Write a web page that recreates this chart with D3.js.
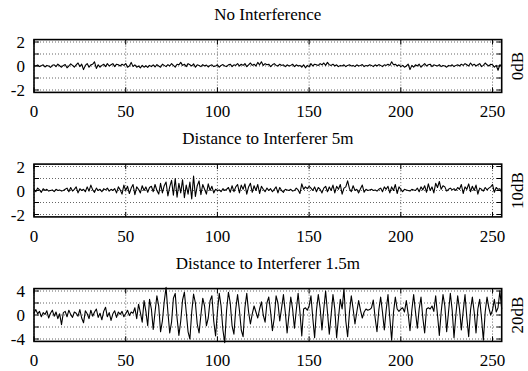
<!DOCTYPE html>
<html>
<head>
<meta charset="utf-8">
<script src="https://cdn.jsdelivr.net/npm/d3@7"></script>
<style>
  body { margin: 0; background: #fff; }
</style>
</head>
<body>
<svg id="chart" width="528" height="371"></svg>
<script>
// values, one per sample index 0..255
const noInterference = [
  0.05, 0.0, 0.08, -0.05, 0.02, 0.1, -0.08, 0.05, 0.0, -0.12, 0.06, 0.1, -0.05, 0.15, 0.02, -0.1,
  0.05, 0.12, -0.15, 0.0, 0.18, 0.05, -0.1, 0.1, 0.25, -0.05, 0.15, -0.3, 0.05, 0.2, -0.1, 0.1,
  0.15, 0.35, -0.2, 0.1, -0.1, 0.05, 0.15, -0.05, 0.2, 0.0, 0.1, 0.2, -0.05, 0.15, 0.1, 0.0,
  0.15, 0.05, 0.2, -0.1, 0.0, 0.3, -0.05, 0.1, -0.1, 0.0, -0.15, 0.05, -0.1, 0.02, -0.12, 0.05,
  -0.05, 0.1, -0.08, 0.12, 0.0, -0.1, 0.15, 0.05, -0.05, 0.12, 0.0, 0.2, 0.05, -0.1, 0.15, 0.1,
  0.3, 0.05, 0.15, -0.05, 0.2, 0.1, 0.0, 0.18, -0.1, 0.1, 0.05, -0.05, 0.12, 0.0, 0.08, -0.08,
  0.05, 0.1, -0.05, 0.0, 0.1, -0.1, 0.05, 0.12, 0.0, -0.05, 0.1, 0.15, -0.05, 0.1, 0.05, 0.2,
  0.0, 0.15, 0.05, 0.2, -0.05, 0.1, 0.25, 0.05, 0.15, 0.0, 0.3, 0.1, 0.35, 0.05, 0.2, 0.1,
  0.15, -0.05, 0.1, 0.2, 0.05, 0.0, 0.15, 0.05, 0.1, -0.05, 0.1, 0.0, 0.05, 0.15, -0.05, 0.1,
  0.0, 0.05, -0.1, 0.1, -0.15, 0.05, -0.05, 0.2, 0.0, 0.15, 0.1, 0.05, 0.2, 0.1, 0.25, 0.05,
  0.3, 0.1, 0.05, 0.15, 0.0, 0.1, -0.05, 0.05, 0.0, 0.1, -0.05, 0.05, 0.1, 0.0, 0.05, -0.05,
  0.1, 0.0, 0.05, 0.12, -0.05, 0.05, 0.0, 0.1, 0.05, -0.05, 0.1, 0.0, 0.12, 0.05, -0.05, 0.1,
  0.05, 0.15, 0.05, 0.35, 0.1, 0.15, 0.0, 0.1, -0.05, 0.05, -0.1, 0.0, 0.15, -0.3, 0.05, -0.1,
  0.1, 0.0, 0.15, -0.1, 0.05, 0.2, 0.0, 0.1, 0.15, -0.05, 0.1, 0.05, 0.0, 0.12, -0.05, 0.05,
  0.0, -0.1, 0.05, 0.0, 0.1, -0.05, 0.05, 0.1, 0.0, 0.15, 0.05, 0.2, 0.1, 0.0, 0.25, 0.05,
  0.15, 0.0, 0.1, 0.2, -0.05, 0.05, 0.25, 0.1, 0.0, 0.15, 0.1, -0.1, 0.05, -0.35, 0.1, 0.0
];

const interferer5m = [
  0.1, -0.1, 0.2, 0.05, -0.15, 0.15, 0.0, 0.1, -0.05, 0.0, 0.05, -0.1, 0.1, 0.0, 0.05, -0.05,
  0.0, 0.1, 0.2, -0.1, 0.25, -0.05, 0.1, 0.3, -0.2, 0.15, 0.0, 0.1, -0.1, 0.3, -0.05, 0.45,
  0.05, -0.15, 0.2, 0.0, 0.1, -0.1, 0.15, 0.05, 0.2, -0.05, 0.1, 0.0, 0.15, -0.2, 0.3, 0.05,
  -0.3, 0.45, 0.0, 0.35, -0.25, 0.2, 0.5, -0.35, 0.3, 0.1, -0.2, 0.4, 0.0, 0.3, -0.15, 0.25,
  0.35, -0.1, 0.5, 0.0, -0.3, 0.6, -0.2, 0.4, 0.7, -0.45, 0.3, 0.85, -0.4, 1.0, -0.55, 0.6,
  -0.2, 0.9, -0.6, 0.45, -0.3, 0.7, -0.7, 1.2, -0.5, 0.4, 0.8, -0.35, 0.5, 0.1, -0.3, 0.55,
  0.0, 0.35, -0.2, 0.1, 0.0, 0.05, -0.1, 0.15, 0.0, 0.1, 0.25, -0.15, 0.4, -0.1, 0.3, 0.5,
  -0.2, 0.45, 0.1, 0.55, -0.3, 0.3, 0.6, -0.15, 0.4, 0.0, 0.5, -0.25, 0.35, 0.1, -0.1, 0.2,
  0.0, 0.15, -0.1, 0.1, 0.3, -0.2, 0.25, 0.0, -0.15, 0.1, 0.05, 0.0, 0.1, -0.05, 0.0, 0.2,
  0.05, -0.25, 0.55, 0.1, 0.3, 0.15, 0.35, 0.2, 0.0, 0.3, -0.1, 0.25, 0.1, -0.2, 0.2, 0.35,
  -0.1, 0.3, 0.0, 0.45, -0.2, 0.35, 0.1, 0.5, -0.3, 0.2, 0.3, 0.8, 0.15, -0.1, 0.4, 0.0,
  0.1, -0.2, 0.15, 0.45, -0.15, 0.1, 0.0, 0.05, 0.1, 0.0, 0.05, -0.05, 0.1, 0.2, -0.1, 0.3,
  0.1, 0.35, -0.2, 0.3, 0.0, 0.5, -0.25, 0.3, 0.1, -0.1, 0.1, 0.05, 0.0, -0.05, 0.1, 0.05,
  0.0, 0.2, -0.1, 0.3, 0.05, 0.4, -0.15, 0.55, 0.0, 0.3, -0.2, 0.6, 0.25, 0.75, 0.1, 0.4,
  0.3, -0.05, 0.1, 0.2, 0.05, 0.15, 0.0, 0.25, 0.1, 0.5, -0.25, 0.3, 0.1, 0.55, -0.1, 0.35,
  0.0, 0.45, -0.3, 0.2, 0.1, -0.05, 0.25, 0.05, 0.2, 0.3, 0.5, -0.15, 0.25, 0.1, 0.15, -0.2
];

const interferer15m = [
  0.3, 0.9, 0.2, 0.6, -0.3, 0.4, 0.1, 0.7, -0.5, 0.3, 0.8, -0.2, 0.5, -0.6, 0.2, -1.6,
  0.4, 0.6, -0.3, 0.8, 0.1, -0.4, 0.5, 0.3, -0.2, 0.9, -0.5, -1.3, 0.7, 0.2, -0.6, 0.8,
  -0.2, 0.5, 1.0, -0.4, 0.3, -0.8, 0.6, 1.3, -0.3, 0.4, -0.9, 0.2, 0.7, -0.4, 0.5, 0.1,
  0.6, -0.3, 0.2, 0.8, -0.1, 0.5, 0.3, 1.2, -0.6, 1.8, 0.4, -1.2, 2.4, 0.6, -1.8, 2.6,
  1.0, -2.4, 0.5, 3.2, 1.5, -2.8, -1.0, 2.2, 4.6, 0.5, -3.0, -1.2, 2.8, 3.6, -0.5, -3.4,
  -1.0, 2.5, 3.8, 0.5, -2.8, -4.0, 0.5, 3.5, 2.0, -1.5, -3.0, 0.0, 2.8, 1.5, -1.8, -0.5,
  2.4, 3.2, -1.0, -3.5, 0.5, 3.6, 1.5, -2.5, -4.6, 0.8, 3.8, 2.0, -1.8, -3.2, 1.0, 3.4,
  0.8, -2.5, -3.6, 1.2, 3.6, 0.5, -1.5, 0.2, 1.5, 0.5, -0.5, 1.0, 2.2, 0.0, -1.2, 2.0,
  3.0, 0.5, -2.6, -0.5, 3.2, 2.0, -1.0, 1.2, 3.4, 0.5, -3.0, 0.0, 3.0, 1.0, -2.2, 0.8,
  3.6, 0.5, -3.5, 1.0, 1.2, 0.8, 1.5, 3.2, -0.5, -3.8, 0.8, 3.4, 1.2, -2.5, 1.0, 4.0,
  0.5, -3.2, 0.0, 3.4, 1.0, -3.8, -0.5, 2.6, 1.0, 4.4, -1.0, -3.6, 0.5, 3.2, 1.0, -1.5,
  0.5, 2.4, 0.8, -0.5, 0.5, 1.0, 0.8, 0.9, 1.2, 2.5, -0.5, -2.8, 0.8, 3.0, 0.5, -2.5,
  0.8, 3.4, -0.5, -4.2, 0.4, 3.0, 1.0, 0.6, 1.0, 1.2, 0.5, 2.4, 0.2, -2.6, 0.8, 3.4,
  0.5, -2.2, 1.0, 3.0, -0.5, -3.0, 1.0, 1.2, 1.0, 1.5, 0.6, 3.2, 0.0, -3.4, 0.5, 3.4,
  1.5, -2.8, 0.5, 3.6, 0.8, -3.8, 0.0, 3.2, 1.0, -2.5, 0.6, 3.4, -0.5, -3.6, 0.8, 3.0,
  0.5, -3.0, 1.0, 2.6, -0.5, -4.2, 0.5, 3.0, 1.2, 0.0, 0.8, 2.6, 0.5, 1.2, 4.0, 1.0
];

const titles = ['No Interference', 'Distance to Interferer 5m', 'Distance to Interferer 1.5m'];
const sideLabels = ['0dB', '10dB', '20dB'];
const xTicks = [0, 50, 100, 150, 200, 250];
const yLimits = [2.2, 2.2, 4.4];
const yGrid = [[-2, -1, 0, 1, 2], [-2, -1, 0, 1, 2], [-4, -2, 0, 2, 4]];
const yTickLabels = [[-2, 0, 2], [-2, 0, 2], [-4, 0, 4]];
const series = [noInterference, interferer5m, interferer15m];

const serif = 'Liberation Serif';

const svg = d3.select('#chart');
const left = 34, right = 501.7, panelH = 52.8, firstTop = 39.6, step = 124.5;

const x = d3.scaleLinear().domain([0, 255]).range([left, right]);

// every text goes through here so the serif face is set on the element itself
function label(sel, str, size) {
    return sel.append('text')
        .style('font-family', serif)
        .style('font-size', size + 'px')
        .attr('fill', '#000')
        .text(str);
}

series.forEach((data, p) => {
    const top = firstTop + p * step;
    const y = d3.scaleLinear().domain([-yLimits[p], yLimits[p]]).range([top + panelH, top]);
    const g = svg.append('g');

    // title
    label(g, titles[p], 17)
        .attr('x', (left + right) / 2)
        .attr('y', top - 20)
        .attr('text-anchor', 'middle');

    // dotted grid
    g.append('g')
        .selectAll('line')
        .data(xTicks)
        .enter()
        .append('line')
        .attr('x1', d => x(d)).attr('x2', d => x(d))
        .attr('y1', top).attr('y2', top + panelH)
        .attr('stroke', '#666')
        .attr('stroke-width', 1)
        .attr('stroke-dasharray', '1,2');
    g.append('g')
        .selectAll('line')
        .data(yGrid[p])
        .enter()
        .append('line')
        .attr('x1', left).attr('x2', right)
        .attr('y1', d => y(d)).attr('y2', d => y(d))
        .attr('stroke', '#666')
        .attr('stroke-width', 1)
        .attr('stroke-dasharray', '1,2');

    // tick marks, inward on all four sides
    const ticks = g.append('g').attr('stroke', '#000').attr('stroke-width', 1);
    xTicks.forEach(t => {
        ticks.append('line').attr('x1', x(t)).attr('x2', x(t)).attr('y1', top + panelH).attr('y2', top + panelH - 5);
        ticks.append('line').attr('x1', x(t)).attr('x2', x(t)).attr('y1', top).attr('y2', top + 5);
    });
    yGrid[p].forEach(t => {
        ticks.append('line').attr('x1', left).attr('x2', left + 5).attr('y1', y(t)).attr('y2', y(t));
        ticks.append('line').attr('x1', right).attr('x2', right - 5).attr('y1', y(t)).attr('y2', y(t));
    });

    // the signal
    const line = d3.line()
        .x((d, i) => x(i))
        .y(d => y(d));
    g.append('path')
        .datum(data)
        .attr('d', line)
        .attr('fill', 'none')
        .attr('stroke', '#000')
        .attr('stroke-width', 1.1)
        .attr('stroke-linejoin', 'round');

    // border
    g.append('rect')
        .attr('x', left).attr('y', top)
        .attr('width', right - left).attr('height', panelH)
        .attr('fill', 'none')
        .attr('stroke', '#000')
        .attr('stroke-width', 1.6);

    // tick labels
    xTicks.forEach(t => {
        label(g, t, 17)
            .attr('x', x(t))
            .attr('y', top + panelH + 25)
            .attr('text-anchor', 'middle');
    });
    yTickLabels[p].forEach(t => {
        label(g, t, 17)
            .attr('x', left - 9)
            .attr('y', y(t) + 6)
            .attr('text-anchor', 'end');
    });

    // rotated label on the right
    label(g, sideLabels[p], 17)
        .attr('transform', `translate(${523},${top + panelH / 2}) rotate(-90)`)
        .attr('text-anchor', 'middle');
});
</script>
</body>
</html>
